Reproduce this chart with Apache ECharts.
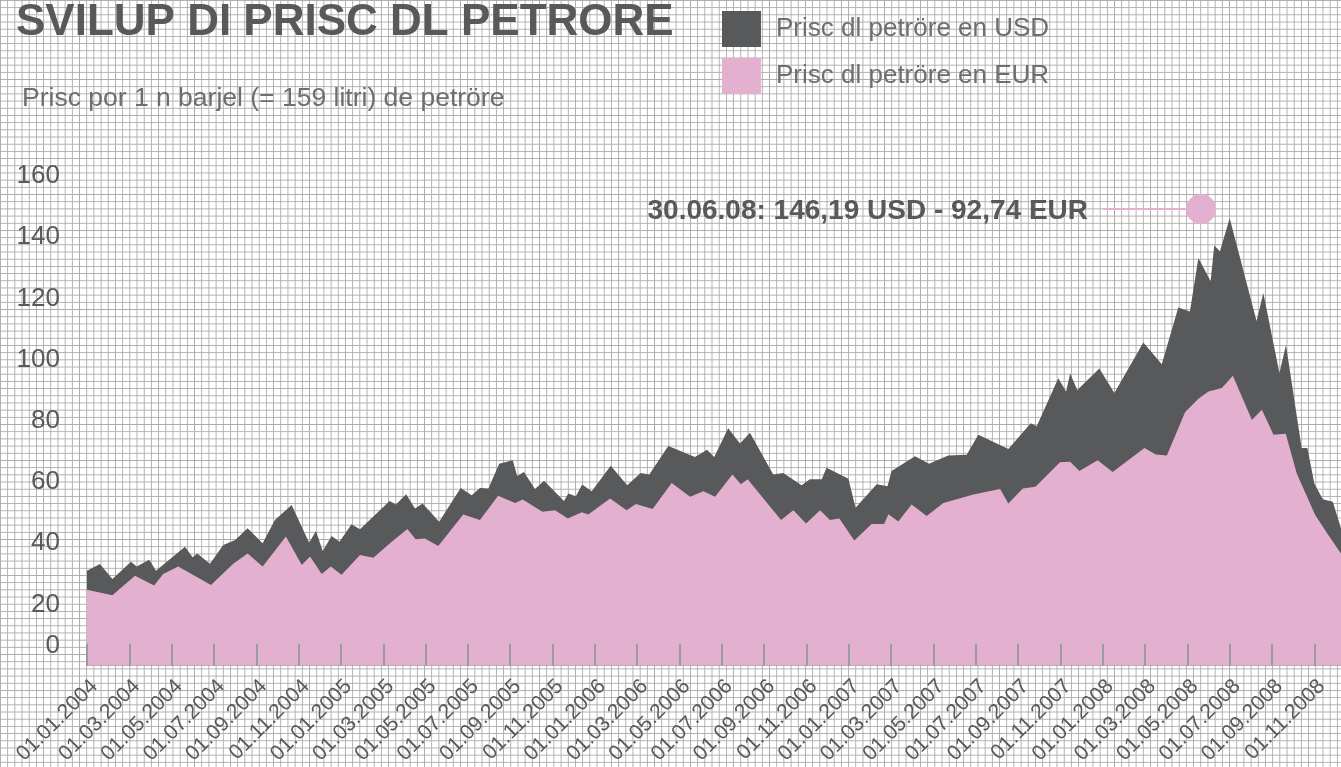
<!DOCTYPE html>
<html>
<head>
<meta charset="utf-8">
<script src="https://cdn.jsdelivr.net/npm/echarts@6/dist/echarts.min.js"></script>
<style>
  html, body { margin: 0; padding: 0; }
  #main {
    width: 1341px;
    height: 767px;
    background-color: #fff;
    background-image:
      linear-gradient(#ababab 1.3px, transparent 1.3px),
      linear-gradient(90deg, #ababab 1.3px, transparent 1.3px);
    background-size: 7.2px 7.2px;
  }
</style>
</head>
<body>
<div id="main"></div>
<script>
var usdMonths = [0, 0.61, 1.2, 2.08, 2.35, 2.94, 3.26, 4.63, 4.99, 5.21, 5.81, 6.44, 7.0, 7.59, 8.3, 8.88, 9.67,
    10.5, 10.82, 11.14, 11.56, 11.93, 12.5, 12.9, 14.3, 14.6, 15.08, 15.5, 15.86, 16.64, 17.66, 18.18, 18.57,
    18.97, 19.48, 20.12, 20.33, 20.65, 21.17, 21.6, 22.54, 22.75, 23.1, 23.4, 23.85, 24.75, 25.53, 26.16,
    26.57, 27.47, 28.73, 29.3, 29.64, 30.3, 30.86, 31.33, 32.43, 32.9, 33.77, 34.16, 34.72, 34.95, 35.98,
    36.32, 37.32, 37.83, 38.02, 39.13, 39.79, 40.7, 41.57, 42.12, 43.54, 44.6, 44.88, 45.9, 46.27, 46.46,
    46.8, 47.84, 48.55, 49.92, 50.79, 51.57, 52.12, 52.52, 53.1, 53.27, 53.54, 54.0, 55.27, 55.59, 56.35,
    56.66, 57.4, 57.67, 58.0, 58.4, 58.87, 59.26];
var usdValues = [31.0, 33.2, 28.3, 34.0, 32.4, 34.6, 31.0, 38.9, 35.4, 36.7, 33.3, 39.4, 41.1, 44.9, 40.0, 47.6, 52.5,
    40.2, 44.0, 37.5, 42.4, 40.5, 46.2, 44.6, 53.8, 52.7, 56.0, 51.4, 53.0, 47.0, 58.1, 55.7, 58.1,
    57.9, 66.0, 67.1, 62.0, 63.3, 57.7, 60.4, 53.8, 56.3, 55.4, 59.2, 57.0, 65.3, 59.0, 63.0,
    62.5, 71.8, 68.2, 70.6, 68.2, 77.6, 72.6, 76.1, 62.5, 63.0, 59.0, 60.9, 60.9, 64.7, 61.1,
    51.6, 59.3, 58.6, 63.6, 68.4, 66.0, 68.7, 68.9, 75.5, 70.8, 79.2, 78.2, 93.9, 89.6, 95.5,
    90.1, 97.1, 89.1, 105.6, 98.5, 117.0, 115.7, 133.2, 125.6, 137.3, 135.4, 146.19, 112.6, 121.8, 95.6,
    104.8, 71.1, 71.1, 59.5, 54.4, 53.6, 44.9];

var eurMonths = [0, 1.2, 2.27, 3.17, 3.6, 4.31, 5.86, 6.91, 7.59, 8.3, 9.4, 10.15, 10.54, 11.09, 11.52, 12.03,
    12.9, 13.53, 14.4, 15.14, 15.53, 15.97, 16.6, 17.78, 18.57, 19.43, 20.23, 20.59, 21.52, 22.12, 22.72,
    23.38, 23.69, 24.72, 25.5, 25.94, 26.73, 27.63, 28.5, 29.13, 29.68, 30.5, 30.9, 31.22, 32.8, 33.38,
    33.98, 34.64, 35.11, 35.55, 36.26, 37.08, 37.67, 37.87, 38.34, 38.97, 39.68, 40.47, 41.89, 43.15,
    43.54, 44.22, 44.82, 45.98, 46.46, 46.9, 47.76, 48.47, 49.97, 50.51, 51.03, 51.89, 52.52, 53.0,
    53.63, 54.15, 55.05, 55.52, 56.07, 56.65, 57.17, 58.04, 58.66, 59.26];
var eurValues = [24.8, 23.0, 29.4, 26.2, 30.0, 32.4, 26.4, 33.3, 36.7, 32.4, 42.2, 32.9, 35.7, 30.0, 32.4, 29.7,
    36.2, 35.3, 40.5, 44.7, 41.3, 41.6, 39.1, 49.4, 47.6, 55.5, 53.2, 54.3, 50.3, 50.8, 48.1,
    50.1, 49.4, 54.6, 50.8, 52.8, 51.2, 59.7, 55.2, 57.0, 55.2, 62.5, 59.3, 60.9, 47.6, 50.8,
    46.5, 50.8, 47.6, 48.1, 40.9, 46.3, 46.3, 49.5, 47.1, 52.7, 48.9, 53.2, 55.9, 57.7,
    53.0, 57.9, 58.5, 66.5, 66.6, 63.6, 67.1, 63.3, 71.1, 69.0, 68.7, 82.8, 87.2, 89.6,
    90.7, 94.7, 80.3, 83.6, 75.5, 75.8, 62.8, 49.2, 42.7, 36.7];

var tickLabels = ['01.01.2004', '01.03.2004', '01.05.2004', '01.07.2004', '01.09.2004', '01.11.2004',
    '01.01.2005', '01.03.2005', '01.05.2005', '01.07.2005', '01.09.2005', '01.11.2005',
    '01.01.2006', '01.03.2006', '01.05.2006', '01.07.2006', '01.09.2006', '01.11.2006',
    '01.01.2007', '01.03.2007', '01.05.2007', '01.07.2007', '01.09.2007', '01.11.2007',
    '01.01.2008', '01.03.2008', '01.05.2008', '01.07.2008', '01.09.2008', '01.11.2008'];

var seriesNames = ['Prisc dl petröre en USD', 'Prisc dl petröre en EUR'];
var titleText = 'SVILUP DI PRISC DL PETRORE';
var subText = 'Prisc por 1 n barjel (= 159 litri) de petröre';
var peakText = '30.06.08: 146,19 USD - 92,74 EUR';

var DARK = '#58595b';
var PINK = '#e3b0d0';
var FONT = '"Liberation Sans", Arial, sans-serif';

function pairs(xs, ys) {
    return xs.map(function (x, i) { return [x, ys[i]]; });
}

var dom = document.getElementById('main');
var myChart = echarts.init(dom, null, { renderer: 'canvas' });

var option = {
    animation: false,
    backgroundColor: 'transparent',
    textStyle: { fontFamily: FONT },
    grid: { left: 87, right: 0, top: 176, bottom: 99 },
    legend: {
        orient: 'vertical',
        left: 722,
        top: 11,
        padding: 0,
        itemWidth: 39,
        itemHeight: 36,
        itemGap: 11,
        icon: 'rect',
        textStyle: { fontSize: 26, color: '#6d6e70', padding: [0, 0, 0, 10], fontFamily: FONT },
        data: [
            { name: seriesNames[0], itemStyle: { color: DARK } },
            { name: seriesNames[1], itemStyle: { color: PINK } }
        ]
    },
    xAxis: {
        type: 'value',
        min: 0,
        max: 59.26,
        interval: 2,
        z: 10,
        splitLine: { show: false },
        axisLine: { show: false },
        axisTick: { show: true, inside: true, length: 22, lineStyle: { color: '#9b9b9b', width: 2 } },
        axisLabel: {
            rotate: 45,
            margin: 10,
            fontSize: 21,
            color: DARK,
            verticalAlign: 'top',
            showMaxLabel: false,
            formatter: function (v) {
                if (Math.abs(v - Math.round(v)) > 1e-6 || Math.round(v) % 2) return '';
                return tickLabels[Math.round(v) / 2] || '';
            }
        }
    },
    yAxis: {
        type: 'value',
        min: 0,
        max: 160,
        interval: 20,
        splitLine: { show: false },
        axisLine: { show: false },
        axisTick: { show: false },
        axisLabel: {
            margin: 27,
            color: DARK,
            fontSize: 26,
            formatter: function (v) {
                return v === 0 ? '{z|0}' : '{n|' + v + '}';
            },
            rich: {
                z: { fontSize: 26, color: DARK, padding: [0, 0, 40, 0] },
                n: { fontSize: 26, color: DARK }
            }
        }
    },
    series: [
        {
            name: seriesNames[0],
            type: 'line',
            data: pairs(usdMonths, usdValues),
            showSymbol: false,
            symbol: 'none',
            itemStyle: { color: DARK },
            lineStyle: { width: 0, opacity: 0 },
            areaStyle: { color: DARK, opacity: 1 },
            z: 2
        },
        {
            name: seriesNames[1],
            type: 'line',
            data: pairs(eurMonths, eurValues),
            showSymbol: false,
            symbol: 'none',
            itemStyle: { color: PINK },
            lineStyle: { width: 0, opacity: 0 },
            areaStyle: { color: PINK, opacity: 1 },
            z: 3
        }
    ],
    graphic: [
        {
            type: 'text',
            z: 20,
            style: { x: 16, y: 23, text: titleText, verticalAlign: 'middle', font: 'bold 44px ' + FONT, fill: DARK }
        },
        {
            type: 'text',
            z: 20,
            style: { x: 22, y: 99, text: subText, verticalAlign: 'middle', font: '26.5px ' + FONT, fill: '#6d6e70' }
        },
        {
            type: 'text',
            z: 20,
            style: { x: 1088, y: 211, text: peakText, align: 'right', verticalAlign: 'middle', font: 'bold 28px ' + FONT, fill: DARK }
        },
        {
            type: 'line',
            z: 20,
            shape: { x1: 1103, y1: 209, x2: 1192, y2: 209 },
            style: { stroke: PINK, lineWidth: 2 }
        },
        {
            type: 'circle',
            z: 20,
            shape: { cx: 1201, cy: 209, r: 15 },
            style: { fill: PINK }
        }
    ]
};

myChart.setOption(option);
window.addEventListener('resize', myChart.resize);
</script>
</body>
</html>
